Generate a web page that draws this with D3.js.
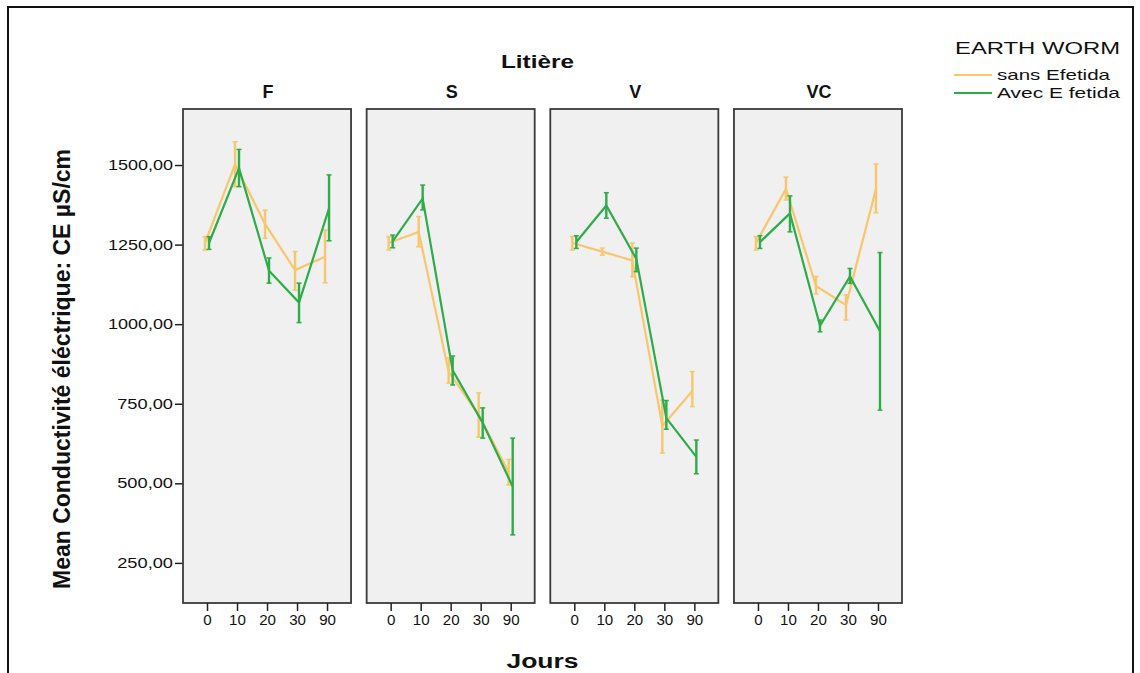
<!DOCTYPE html>
<html>
<head>
<meta charset="utf-8">
<script src="https://cdn.jsdelivr.net/npm/d3@7/dist/d3.min.js"></script>
<style>
  html, body { margin: 0; padding: 0; background: #fff; }
  svg { display: block; }
  text { font-family: "Liberation Sans", Arial, sans-serif; fill: #111; }
</style>
</head>
<body>
<svg id="chart" width="1140" height="673"></svg>
<script>
// Litière panels and sampling days
const litiere = ["F", "S", "V", "VC"];
const jours = ["0", "10", "20", "30", "90"];
const yTicks = [250, 500, 750, 1000, 1250, 1500];
const seriesNames = ["sans Efetida", "Avec E fetida"];

// Mean conductivity (µS/cm) per panel, one row per litière, one column per day
const sansMean = [
  [1255, 1502, 1315, 1170, 1212],
  [1255, 1290, 850, 715, 535],
  [1255, 1228, 1200, 680, 790],
  [1255, 1425, 1120, 1060, 1425]
];
const sansLow = [
  [1233, 1432, 1270, 1107, 1130],
  [1233, 1243, 815, 645, 495],
  [1233, 1217, 1149, 595, 741],
  [1233, 1390, 1095, 1013, 1350]
];
const sansHigh = [
  [1275, 1573, 1358, 1228, 1296],
  [1275, 1338, 894, 784, 575],
  [1275, 1239, 1255, 762, 851],
  [1275, 1462, 1150, 1092, 1503]
];
const avecMean = [
  [1255, 1490, 1168, 1068, 1364],
  [1260, 1395, 855, 690, 490],
  [1258, 1373, 1205, 705, 583],
  [1258, 1348, 995, 1150, 978]
];
const avecLow = [
  [1235, 1432, 1129, 1005, 1262],
  [1240, 1359, 809, 642, 338],
  [1238, 1333, 1165, 670, 530],
  [1238, 1290, 976, 1128, 730]
];
const avecHigh = [
  [1275, 1549, 1208, 1129, 1469],
  [1280, 1437, 900, 737, 642],
  [1278, 1413, 1239, 760, 636],
  [1278, 1403, 1013, 1175, 1225]
];

const colors = ["#f8c66c", "#2eac48"];
const offsets = [-2, 2];

const svg = d3.select("#chart");

// outer frame
svg.append("rect")
  .attr("x", 8).attr("y", 7)
  .attr("width", 1125).attr("height", 700)
  .attr("fill", "none").attr("stroke", "#111").attr("stroke-width", 2);

const plotTop = 109, plotBottom = 603;
const panelScale = d3.scaleBand().domain(litiere).range([183, 902]).paddingInner(0.085).paddingOuter(0);
const y = d3.scaleLinear().domain([124, 1676]).range([plotBottom, plotTop]);
const pw = panelScale.bandwidth();
const x = d3.scalePoint().domain(jours).range([0, pw]).padding(0.8);

// widened glyph run, the way the tick and legend text is set
const stretch = (sel, perChar) =>
  sel.attr("textLength", function () { return this.textContent.length * perChar; })
     .attr("lengthAdjust", "spacingAndGlyphs");

// y axis on the left of the first panel
const yAxis = svg.append("g")
  .attr("transform", `translate(${panelScale("F")},0)`)
  .call(d3.axisLeft(y).tickValues(yTicks).tickSize(8).tickPadding(2)
    .tickFormat(d => d3.format(".2f")(d).replace(".", ",")));
yAxis.select(".domain").remove();
yAxis.selectAll(".tick line").attr("stroke", "#222").attr("stroke-width", 1.5);
yAxis.selectAll(".tick text")
  .attr("font-size", 14).attr("fill", "#222")
  .style("font-family", "'Liberation Sans', Arial, sans-serif")
  .call(stretch, 9.3);

litiere.forEach((lit, pi) => {
  const g = svg.append("g").attr("transform", `translate(${panelScale(lit)},0)`);

  g.append("rect")
    .attr("x", 0).attr("y", plotTop).attr("width", pw).attr("height", plotBottom - plotTop)
    .attr("fill", "#f0f0f0").attr("stroke", "#3a3a3a").attr("stroke-width", 1.8);

  // x axis
  const xa = g.append("g").attr("transform", `translate(0,${plotBottom})`)
    .call(d3.axisBottom(x).tickSize(8).tickPadding(3));
  xa.select(".domain").remove();
  xa.selectAll(".tick line").attr("stroke", "#222").attr("stroke-width", 1.5);
  xa.selectAll(".tick text").attr("font-size", 15).attr("fill", "#222")
    .style("font-family", "'Liberation Sans', Arial, sans-serif")
    .call(stretch, 8.4);

  // panel title
  g.append("text")
    .attr("x", pw / 2 + 1).attr("y", 98)
    .attr("text-anchor", "middle")
    .attr("font-size", 18).attr("font-weight", "bold")
    .call(stretch, 14.5)
    .text(lit);

  const sets = [
    { mean: sansMean[pi], low: sansLow[pi], high: sansHigh[pi] },
    { mean: avecMean[pi], low: avecLow[pi], high: avecHigh[pi] }
  ];

  sets.forEach((s, si) => {
    const pts = jours.map((j, k) => ({ j, m: s.mean[k], lo: s.low[k], hi: s.high[k] }));
    const px = d => x(d.j) + offsets[si];

    g.append("path")
      .datum(pts)
      .attr("fill", "none")
      .attr("stroke", colors[si])
      .attr("stroke-width", 2.2)
      .attr("d", d3.line().x(px).y(d => y(d.m)));

    const eb = g.append("g").attr("stroke", colors[si]).attr("stroke-width", 2.4);
    eb.selectAll("line.v").data(pts).join("line").attr("class", "v")
      .attr("x1", px).attr("x2", px)
      .attr("y1", d => y(d.lo)).attr("y2", d => y(d.hi));
    eb.selectAll("line.capHi").data(pts).join("line").attr("class", "capHi")
      .attr("stroke-width", 1.5)
      .attr("x1", d => px(d) - 2.5).attr("x2", d => px(d) + 2.5)
      .attr("y1", d => y(d.hi)).attr("y2", d => y(d.hi));
    eb.selectAll("line.capLo").data(pts).join("line").attr("class", "capLo")
      .attr("stroke-width", 1.5)
      .attr("x1", d => px(d) - 2.5).attr("x2", d => px(d) + 2.5)
      .attr("y1", d => y(d.lo)).attr("y2", d => y(d.lo));
  });
});

// facet title and axis titles
const midX = (panelScale("F") + panelScale("VC") + pw) / 2;
svg.append("text")
  .attr("x", midX - 5).attr("y", 68)
  .attr("text-anchor", "middle").attr("font-size", 18).attr("font-weight", "bold")
  .attr("textLength", 73).attr("lengthAdjust", "spacingAndGlyphs")
  .text("Litière");

svg.append("text")
  .attr("x", midX).attr("y", 668)
  .attr("text-anchor", "middle").attr("font-size", 20).attr("font-weight", "bold")
  .attr("textLength", 72).attr("lengthAdjust", "spacingAndGlyphs")
  .text("Jours");

svg.append("text")
  .attr("transform", "translate(70,369) rotate(-90)")
  .attr("text-anchor", "middle")
  .attr("font-size", 23).attr("font-weight", "bold")
  .style("font-family", "'Liberation Sans Narrow', 'Arial Narrow', 'Liberation Sans', sans-serif")
  .attr("textLength", 440).attr("lengthAdjust", "spacingAndGlyphs")
  .text("Mean Conductivité éléctrique: CE µS/cm");

// legend
const lg = svg.append("g");
lg.append("text")
  .attr("x", 955).attr("y", 54)
  .attr("font-size", 17).attr("fill", "#222")
  .attr("textLength", 165).attr("lengthAdjust", "spacingAndGlyphs")
  .text("EARTH WORM");
const legendWidths = [113, 123];
seriesNames.forEach((name, i) => {
  const yy = 75 + i * 18;
  lg.append("line")
    .attr("x1", 954).attr("x2", 992).attr("y1", yy).attr("y2", yy)
    .attr("stroke", colors[i]).attr("stroke-width", 1.8);
  lg.append("text")
    .attr("x", 997).attr("y", yy + 5)
    .attr("font-size", 14.5).attr("fill", "#222")
    .attr("textLength", legendWidths[i]).attr("lengthAdjust", "spacingAndGlyphs")
    .text(name);
});
</script>
</body>
</html>
